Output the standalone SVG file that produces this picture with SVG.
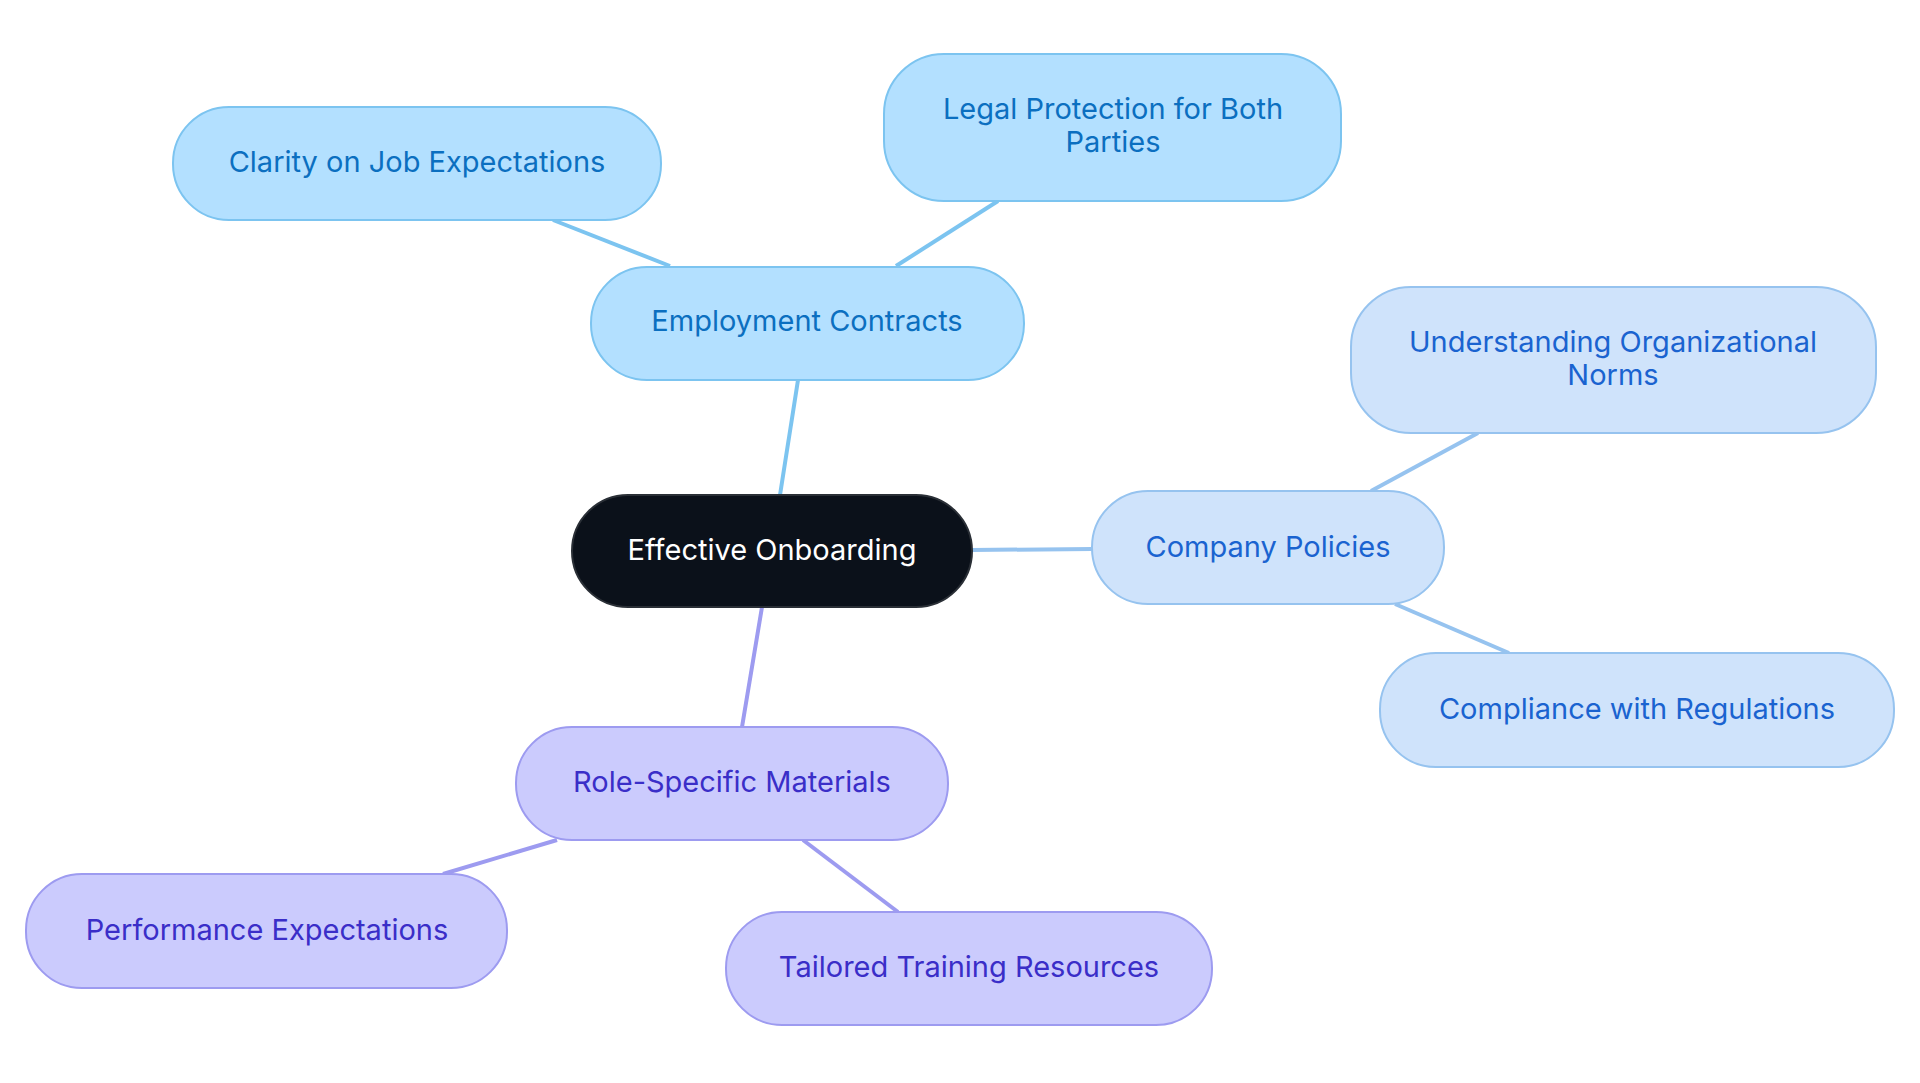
<svg xmlns="http://www.w3.org/2000/svg" width="1920" height="1083" viewBox="0 0 1920 1083">
<style>
text{font-family:Inter,"Open Sans","Liberation Sans",sans-serif;font-size:29px;text-anchor:middle;dominant-baseline:central}
.a rect{fill:#b3e0ff;stroke:#7cc4f0;stroke-width:2}.a text{fill:#0b6fc0}
.b rect{fill:#cfe3fb;stroke:#96c3ef;stroke-width:2}.b text{fill:#1a63d0}
.c rect{fill:#cbcbfd;stroke:#9d9bf0;stroke-width:2}.c text{fill:#3a2ec8}
.la{stroke:#7cc4f0}.lb{stroke:#96c3ef}.lc{stroke:#9d9bf0}
line{stroke-width:4}
</style>
<rect width="1920" height="1083" fill="#fff"/>
<g id="connectors">
<line class="la" x1="780" y1="495" x2="798" y2="380"/>
<line class="la" x1="670" y1="266" x2="553" y2="220"/>
<line class="la" x1="896" y1="266" x2="998" y2="201"/>
<line class="lb" x1="972" y1="550" x2="1092" y2="549"/>
<line class="lb" x1="1371" y1="491" x2="1478" y2="433"/>
<line class="lb" x1="1395" y1="604" x2="1509" y2="653"/>
<line class="lc" x1="762" y1="607" x2="742" y2="727"/>
<line class="lc" x1="557" y1="840" x2="443" y2="874"/>
<line class="lc" x1="803" y1="840" x2="898" y2="912"/>
</g>
<g id="center"><rect x="572" y="495" width="400" height="112" rx="56" fill="#0b111a" stroke="#2a2f36" stroke-width="2"/><text x="772" y="549" fill="#fff">Effective Onboarding</text></g>
<g id="employment" class="a"><rect x="591" y="267" width="433" height="113" rx="56"/><text x="807" y="320">Employment Contracts</text></g>
<g id="clarity" class="a"><rect x="173" y="107" width="488" height="113" rx="56"/><text x="417" y="161">Clarity on Job Expectations</text></g>
<g id="legal" class="a"><rect x="884" y="54" width="457" height="147" rx="60"/><text x="1113" y="108">Legal Protection for Both</text><text x="1113" y="141">Parties</text></g>
<g id="policies" class="b"><rect x="1092" y="491" width="352" height="113" rx="56"/><text x="1268" y="546">Company Policies</text></g>
<g id="norms" class="b"><rect x="1351" y="287" width="525" height="146" rx="60"/><text x="1613" y="341">Understanding Organizational</text><text x="1613" y="374">Norms</text></g>
<g id="compliance" class="b"><rect x="1380" y="653" width="514" height="114" rx="56"/><text x="1637" y="708">Compliance with Regulations</text></g>
<g id="role" class="c"><rect x="516" y="727" width="432" height="113" rx="56"/><text x="732" y="781">Role-Specific Materials</text></g>
<g id="performance" class="c"><rect x="26" y="874" width="481" height="114" rx="56"/><text x="267" y="929">Performance Expectations</text></g>
<g id="tailored" class="c"><rect x="726" y="912" width="486" height="113" rx="56"/><text x="969" y="966">Tailored Training Resources</text></g>
</svg>
